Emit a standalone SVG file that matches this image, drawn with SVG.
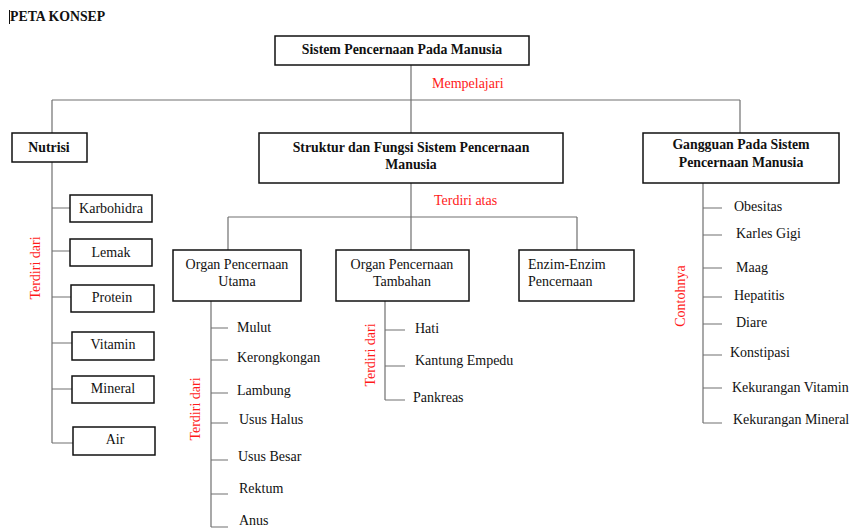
<svg xmlns="http://www.w3.org/2000/svg" width="850" height="529" viewBox="0 0 850 529">
<style>
text{font-family:"Liberation Serif","Times New Roman",serif;font-size:14px;fill:#111}
.b{font-weight:bold;font-size:13.8px}
.c{text-anchor:middle}
.r{fill:#ff1a1a}
.box{fill:#fff;stroke:#111;stroke-width:1.5}
.ln{stroke:#707070;stroke-width:1.2;fill:none}
</style>
<rect width="850" height="529" fill="#fff"/>
<text class="b" x="10" y="21">PETA KONSEP</text>
<line x1="9.5" y1="10" x2="9.5" y2="24" stroke="#111" stroke-width="1"/>

<g id="connectors">
<path class="ln" d="M411 65V133M52 100H740M52 100V133M740 100V133"/>
<path class="ln" d="M52 162V443M52 208H70M52 251H70M52 297H71M52 343H72M52 389H72M52 443H73"/>
<path class="ln" d="M411 183V250M228 217H577M228 217V250M577 217V250"/>
<path class="ln" d="M211 301V527M211 328H228M211 360H228M211 393H228M211 423H228M211 460H228M211 494H228M211 527H228"/>
<path class="ln" d="M385 301V400M385 330H405M385 366H405M385 400H405"/>
<path class="ln" d="M703 183V423M703 208H722M703 235H722M703 268H722M703 297H722M703 324H722M703 355H722M703 388H722M703 423H722"/>
</g>

<text class="r" x="432" y="88">Mempelajari</text>
<text class="r" x="434" y="205">Terdiri atas</text>
<text class="r c" transform="translate(40,268) rotate(-90)">Terdiri dari</text>
<text class="r c" transform="translate(200,409) rotate(-90)">Terdiri dari</text>
<text class="r c" transform="translate(375,355) rotate(-90)">Terdiri dari</text>
<text class="r c" transform="translate(685,296) rotate(-90)">Contohnya</text>

<g id="root"><rect class="box" x="275" y="36" width="254" height="29"/><text class="b c" x="402" y="54">Sistem Pencernaan Pada Manusia</text></g>
<g id="nutrisi"><rect class="box" x="12" y="133" width="75" height="29"/><text class="b c" x="49" y="152">Nutrisi</text></g>
<g id="struktur"><rect class="box" x="259" y="133" width="304" height="50"/><text class="b c" x="411" y="152">Struktur dan Fungsi Sistem Pencernaan</text><text class="b c" x="411" y="169">Manusia</text></g>
<g id="gangguan"><rect class="box" x="643" y="133" width="196" height="50"/><text class="b c" x="741" y="149">Gangguan Pada Sistem</text><text class="b c" x="741" y="167">Pencernaan Manusia</text></g>

<g id="karbohidra"><rect class="box" x="70" y="195" width="82" height="27"/><text class="c" x="111" y="213">Karbohidra</text></g>
<g id="lemak"><rect class="box" x="70" y="239" width="82" height="27"/><text class="c" x="111" y="257">Lemak</text></g>
<g id="protein"><rect class="box" x="71" y="285" width="83" height="27"/><text class="c" x="112" y="302">Protein</text></g>
<g id="vitamin"><rect class="box" x="72" y="332" width="82" height="28"/><text class="c" x="113" y="349">Vitamin</text></g>
<g id="mineral"><rect class="box" x="72" y="376" width="82" height="27"/><text class="c" x="113" y="393">Mineral</text></g>
<g id="air"><rect class="box" x="73" y="427" width="82" height="28"/><text class="c" x="115" y="444">Air</text></g>

<g id="organ-utama"><rect class="box" x="173" y="250" width="128" height="51"/><text class="c" x="237" y="269">Organ Pencernaan</text><text class="c" x="237" y="286">Utama</text></g>
<g id="organ-tambahan"><rect class="box" x="336" y="250" width="133" height="51"/><text class="c" x="402" y="269">Organ Pencernaan</text><text class="c" x="402" y="286">Tambahan</text></g>
<g id="enzim"><rect class="box" x="519" y="250" width="115" height="51"/><text x="528" y="269">Enzim-Enzim</text><text x="528" y="286">Pencernaan</text></g>

<g id="utama-items">
<text x="237" y="332">Mulut</text>
<text x="237" y="362">Kerongkongan</text>
<text x="237" y="395">Lambung</text>
<text x="239" y="424">Usus Halus</text>
<text x="238" y="461">Usus Besar</text>
<text x="239" y="493">Rektum</text>
<text x="239" y="525">Anus</text>
</g>
<g id="tambahan-items">
<text x="415" y="333">Hati</text>
<text x="415" y="365">Kantung Empedu</text>
<text x="413" y="402">Pankreas</text>
</g>
<g id="gangguan-items">
<text x="734" y="211">Obesitas</text>
<text x="736" y="238">Karles Gigi</text>
<text x="736" y="272">Maag</text>
<text x="734" y="300">Hepatitis</text>
<text x="736" y="327">Diare</text>
<text x="730" y="357">Konstipasi</text>
<text x="732" y="392">Kekurangan Vitamin</text>
<text x="733" y="424">Kekurangan Mineral</text>
</g>
</svg>
